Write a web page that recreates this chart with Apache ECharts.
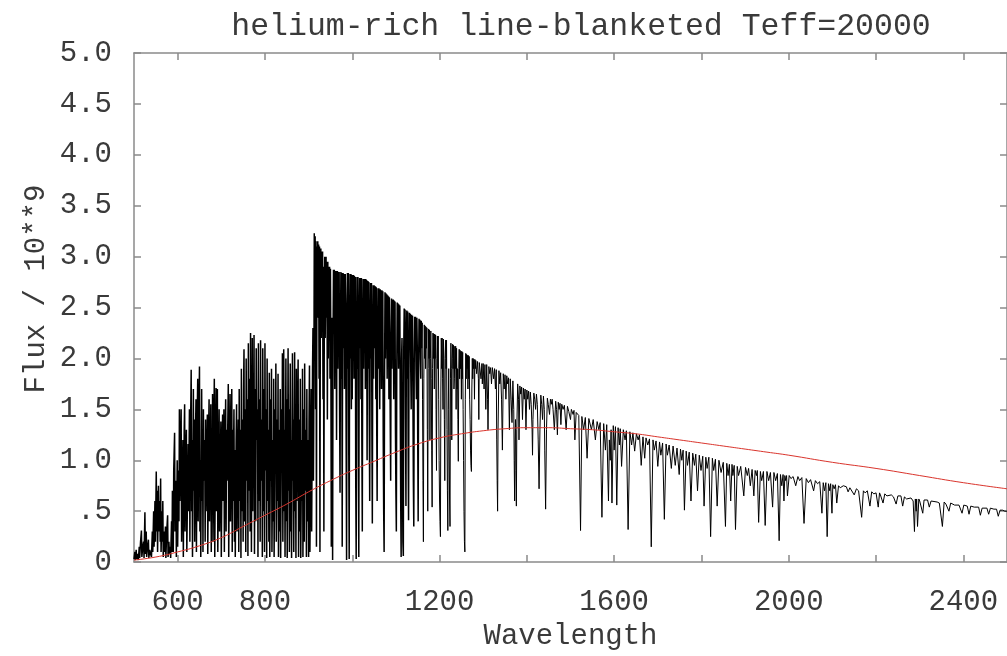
<!DOCTYPE html>
<html>
<head>
<meta charset="utf-8">
<title>helium-rich line-blanketed Teff=20000</title>
<script src="https://cdn.jsdelivr.net/npm/echarts@6/dist/echarts.min.js"></script>
<style>
  html, body { margin: 0; padding: 0; background: #fff; overflow: hidden; }
  #chart { width: 100vw; height: 100vh; }
</style>
</head>
<body>
<div id="chart"></div>
<script>
// model spectrum, [wavelength, flux / 1e9]
// short-wavelength part: the heavily blanketed forest below ~1160
const spectrumShort = [
  [500,0.03],[502,0.1],[503,0.02],[505,0.12],[506,0.03],[508,0.08],[510,0.02],[512,0.15],[513,0.04],[515,0.2],
  [517,0.31],[518,0.05],[520,0.15],[522,0.2],[523,0.04],[525,0.49],[526,0.08],[528,0.3],[529,0.05],[531,0.15],
  [533,0.22],[534,0.04],[536,0.12],[538,0.08],[540,0.05],[542,0.3],[543,0.1],[545,0.5],[546,0.15],[548,0.6],
  [549,0.2],[551,0.89],[552,0.3],[553,0.7],[554,0.1],[556,0.75],[557,0.3],[559,0.6],[560,0.2],[561,0.82],
  [562,0.1],[564,0.5],[565,0.2],[566,0.6],[567,0.05],[569,0.3],[570,0.1],[572,0.35],[573,0.04],[575,0.3],
  [577,0.46],[578,0.05],[580,0.2],[581,0.08],[583,0.15],[584,0.04],[586,0.4],[587,0.1],[588,0.7],[589,0.2],
  [590,0.1],[591,0.9],[593,1.27],[594,0.3],[596,0.8],[597,0.05],[599,1.0],[600,0.15],[602,0.9],[603,0.4],
  [604,1.5],[605,0.6],[607,1.2],[608,1.5],[609,0.2],[611,0.9],[612,1.2],[613,0.05],[615,1.3],[616,1.55],
  [617,0.3],[619,1.1],[620,1.3],[621,0.1],[623,0.8],[624,1.16],[625,0.5],[627,1.5],[628,0.2],[629,1.1],
  [631,1.89],[632,0.5],[633,1.2],[634,0.05],[636,1.7],[637,0.7],[638,1.4],[639,0.2],[641,1.3],[642,1.6],
  [643,0.1],[645,1.5],[646,1.8],[647,0.4],[648,1.2],[650,1.92],[651,0.3],[652,1.0],[653,0.05],[655,1.7],
  [656,0.6],[657,1.3],[658,0.1],[659,1.5],[660,0.8],[662,1.2],[663,0.2],[664,1.4],[665,0.5],[667,1.1],
  [668,1.45],[669,0.08],[671,1.3],[672,1.6],[673,0.4],[674,0.9],[676,1.55],[677,0.1],[678,1.2],[679,0.7],
  [680,1.65],[681,0.2],[683,1.4],[684,1.8],[685,0.05],[687,1.3],[688,1.71],[689,0.5],[690,1.2],[691,1.7],
  [692,0.1],[694,1.1],[695,1.5],[696,0.3],[698,1.0],[699,1.38],[700,0.05],[702,1.2],[703,1.45],[704,0.6],
  [706,1.5],[707,0.1],[708,0.9],[710,1.6],[711,0.3],[712,1.3],[713,0.8],[715,1.4],[716,1.75],[717,0.05],
  [719,1.2],[720,1.65],[721,0.4],[722,0.9],[724,1.7],[725,0.1],[726,1.3],[727,0.6],[729,1.5],[730,0.2],
  [731,1.1],[732,0.05],[734,1.2],[735,1.55],[736,0.3],[737,0.8],[739,1.4],[740,0.1],[741,1.7],[742,0.6],
  [744,1.3],[745,0.04],[746,1.9],[747,0.5],[749,1.4],[750,0.2],[751,1.7],[752,2.09],[753,0.4],[755,1.5],
  [756,0.1],[757,2.0],[758,0.8],[760,1.6],[761,0.06],[762,2.15],[763,0.7],[765,1.8],[766,0.3],[767,2.25],
  [768,1.0],[769,0.1],[771,2.2],[772,0.5],[773,1.6],[774,1.0],[775,2.23],[776,0.08],[778,1.7],[779,0.4],
  [780,2.1],[781,1.2],[783,1.5],[784,0.05],[785,2.15],[786,0.6],[788,1.6],[789,0.2],[790,2.18],[791,0.8],
  [793,1.4],[794,0.05],[795,2.1],[796,0.5],[798,1.7],[799,0.1],[800,2.15],[801,0.9],[803,1.5],[804,0.04],
  [805,2.0],[806,0.6],[808,1.3],[809,0.2],[810,1.86],[811,0.05],[813,1.6],[814,0.8],[815,1.9],[816,0.1],
  [818,1.2],[819,0.4],[820,1.8],[821,0.05],[823,1.5],[824,1.0],[825,1.95],[826,0.2],[828,1.4],[829,0.6],
  [830,1.85],[831,0.05],[833,1.3],[834,0.3],[835,1.7],[836,0.04],[838,1.5],[839,0.9],[840,2.05],[841,0.2],
  [843,2.09],[844,0.5],[845,1.3],[846,0.05],[848,2.0],[849,0.4],[850,1.6],[851,0.04],[853,2.1],[854,0.7],
  [855,1.5],[856,0.1],[858,1.95],[859,0.3],[860,1.2],[861,0.04],[863,2.05],[864,0.8],[865,1.4],[866,0.1],
  [868,2.06],[869,0.5],[870,1.1],[871,0.04],[872,1.9],[873,0.6],[875,1.5],[876,1.99],[877,0.05],[879,1.4],
  [880,0.3],[881,1.8],[882,0.04],[884,1.2],[885,0.6],[886,1.9],[887,0.05],[889,1.5],[890,0.2],[891,1.95],
  [892,0.7],[894,1.3],[895,0.05],[896,1.7],[897,0.4],[899,1.2],[900,0.05],[901,1.4],[902,1.93],[903,0.1],
  [905,1.2],[906,1.7],[907,0.3],[909,1.9],[910,2.3],[911,0.8],[912,1.6],
  [913,3.23],[914,2.0],[915,3.2],[916,1.5],[917,3.15],[918,0.15],[919,3.1],[920,2.6],[921,3.15],[922,2.4],
  [923,3.12],[924,1.8],[925,3.1],[926,0.1],[927,2.9],[928,3.08],[929,2.2],[930,3.05],[931,2.5],[932,3.05],
  [933,1.6],[934,2.9],[935,0.3],[936,2.5],[937,3.0],[938,2.2],[940,3.0],[941,2.4],[942,2.95],[943,1.4],
  [944,2.95],[945,2.0],[946,2.9],[947,2.6],[948,2.9],[949,1.8],[950,2.88],[951,2.1],[952,0.15],[953,1.5],
  [954,2.4],[955,0.02],[956,2.2],[957,2.87],[958,2.3],[959,2.87],[960,1.7],[961,2.86],[962,2.2],[963,2.86],
  [964,1.2],[965,2.5],[966,2.86],[967,1.9],[968,2.85],[969,2.3],[970,2.85],[971,1.5],[972,0.68],[973,2.2],
  [974,2.85],[975,1.8],[976,2.84],[977,0.15],[978,2.5],[979,2.84],[980,2.1],[981,2.83],[982,1.7],[983,2.0],
  [984,2.83],[985,2.5],[986,1.2],[987,0.02],[988,2.4],[989,2.84],[990,1.9],[991,2.84],[992,1.1],[993,0.03],
  [994,2.3],[995,2.83],[996,2.0],[997,2.83],[998,1.5],[999,2.82],[1000,1.6],[1001,2.82],[1002,2.2],[1003,2.82],
  [1004,1.8],[1005,2.81],[1006,2.3],[1007,2.8],[1008,0.8],[1009,0.03],[1010,2.2],[1011,2.8],[1012,1.9],[1013,2.8],
  [1014,1.0],[1015,0.05],[1016,2.4],[1017,2.79],[1018,2.1],[1019,2.79],[1020,1.6],[1021,2.79],[1022,1.2],[1023,0.3],
  [1024,2.3],[1025,2.78],[1026,1.9],[1027,2.78],[1028,2.3],[1029,2.78],[1030,1.7],[1031,2.78],[1032,2.2],[1033,2.77],
  [1034,1.0],[1035,2.5],[1036,2.76],[1037,1.9],[1038,2.75],[1039,1.4],[1040,0.6],[1041,2.3],[1042,2.74],[1043,2.0],
  [1044,2.74],[1045,1.3],[1046,0.38],[1047,2.2],[1048,2.72],[1049,1.8],[1050,2.72],[1051,2.3],[1052,2.1],[1053,2.71],
  [1054,1.6],[1055,2.7],[1056,1.4],[1057,0.6],[1058,2.2],[1059,2.69],[1060,1.9],[1061,2.69],[1062,2.3],[1063,1.5],
  [1064,2.68],[1065,2.1],[1066,2.67],[1067,1.7],[1068,2.67],[1069,2.2],[1070,2.66],[1071,1.2],[1072,0.5],[1073,0.1],
  [1074,1.8],[1075,2.65],[1076,2.0],[1077,2.64],[1078,2.3],[1079,2.63],[1080,1.8],[1081,2.62],[1082,2.2],[1083,2.61],
  [1084,1.6],[1085,2.6],[1086,2.1],[1087,1.4],[1088,0.8],[1089,2.2],[1090,2.59],[1091,1.9],[1092,2.58],[1093,2.3],
  [1094,2.58],[1095,1.6],[1096,2.57],[1097,2.0],[1098,2.56],[1099,1.3],[1100,0.7],[1101,0.3],[1102,1.9],[1103,2.55],
  [1104,2.2],[1105,2.54],[1106,1.9],[1107,2.53],[1108,2.3],[1109,2.52],[1110,1.5],[1111,0.6],[1112,0.05],[1113,2.0],
  [1114,2.2],[1115,1.0],[1116,0.2],[1117,0.06],[1118,2.1],[1119,2.49],[1120,2.0],[1121,2.48],[1122,1.4],[1123,0.55],
  [1124,2.2],[1125,2.47],[1126,1.8],[1127,2.46],[1128,1.2],[1129,0.41],[1130,2.0],[1131,2.45],[1132,2.1],[1133,2.44],
  [1134,1.9],[1135,1.5],[1136,2.43],[1137,2.0],[1138,2.42],[1139,1.6],[1140,0.8],[1141,0.35],[1142,2.0],[1143,2.41],
  [1144,2.1],[1145,2.41],[1146,1.9],[1147,1.6],[1148,2.4],[1149,2.1],[1150,1.2],[1151,0.4],[1152,1.9],[1153,2.39],
  [1154,2.2],[1155,2.38],[1156,2.0],[1157,1.8],[1158,2.37],[1159,2.1],[1160,2.35]
];

// long-wavelength part: thinning lines on a falling continuum
const spectrumLong = [
  [1160,2.35],[1161,1.6],[1162,0.8],[1163,0.2],[1164,1.8],[1165,2.33],[1166,2.0],[1167,2.32],[1168,1.9],[1169,2.31],
  [1170,2.1],[1171,2.3],[1172,1.3],[1173,0.5],[1174,1.9],[1175,2.29],[1176,2.0],[1177,2.28],[1178,1.2],[1179,2.0],
  [1180,2.27],[1181,1.8],[1182,1.1],[1183,0.54],[1184,1.9],[1185,2.25],[1186,2.0],[1187,2.24],[1188,1.7],[1189,2.24],
  [1190,2.0],[1191,2.23],[1192,1.5],[1193,0.9],[1194,2.0],[1195,2.22],[1196,1.9],[1197,2.22],[1198,1.6],[1199,1.0],
  [1200,0.6],[1201,0.4],[1202,0.25],[1203,1.7],[1204,2.2],[1205,1.9],[1206,2.2],[1207,1.8],[1208,1.5],[1209,2.19],
  [1210,2.0],[1211,1.4],[1212,0.8],[1213,2.0],[1214,2.18],[1215,1.9],[1216,2.18],[1217,1.3],[1218,0.7],[1219,0.31],
  [1220,1.5],[1221,1.9],[1222,1.2],[1223,0.6],[1224,0.35],[1225,1.8],[1226,2.15],[1227,1.9],[1228,1.2],[1229,2.0],
  [1230,2.14],[1231,1.9],[1232,2.13],[1233,1.7],[1234,1.8],[1235,2.12],[1236,1.9],[1237,2.12],[1238,1.5],[1239,2.1],
  [1240,1.7],[1241,1.9],[1242,1.4],[1243,0.99],[1244,1.9],[1245,2.09],[1246,1.8],[1247,2.08],[1248,1.9],[1249,2.07],
  [1250,1.6],[1251,2.07],[1252,1.8],[1253,2.06],[1254,1.5],[1255,1.0],[1256,0.5],[1257,0.2],[1258,0.1],[1259,1.6],
  [1260,2.05],[1261,1.8],[1262,2.04],[1263,1.9],[1264,2.03],[1265,1.7],[1266,2.03],[1267,1.8],[1268,2.02],[1269,1.6],
  [1270,1.4],[1271,1.1],[1272,0.95],[1273,0.89],[1274,1.7],[1275,2.0],[1276,1.8],[1277,2.0],[1278,1.9],[1279,1.99],
  [1280,1.6],[1281,1.99],[1282,1.9],[1283,1.98],[1285,1.85],[1287,1.97],[1289,1.8],[1290,1.4],[1291,1.96],[1293,1.96],
  [1295,1.8],[1297,1.95],[1298,1.75],[1300,1.95],[1302,1.7],[1304,1.94],[1306,1.5],[1308,1.94],[1310,1.6],[1311,1.3],
  [1313,1.92],[1315,1.85],[1317,1.91],[1319,1.75],[1321,1.91],[1324,1.8],[1326,1.9],[1328,1.7],[1330,1.89],[1331,1.2],
  [1332,0.8],[1333,0.5],[1334,1.3],[1336,1.88],[1338,1.75],[1340,1.86],[1342,1.6],[1344,1.1],[1346,1.85],[1348,1.7],
  [1350,1.84],[1352,1.6],[1354,1.83],[1356,1.75],[1358,1.81],[1360,1.3],[1362,1.8],[1364,1.6],[1366,1.37],[1368,1.78],
  [1370,1.5],[1371,1.0],[1372,0.6],[1373,1.2],[1374,1.4],[1375,0.9],[1376,0.55],[1377,1.3],[1379,1.75],[1381,1.6],
  [1382,1.2],[1384,1.73],[1386,1.65],[1388,1.72],[1390,1.4],[1392,1.71],[1394,1.6],[1396,1.7],[1398,1.3],[1400,1.69],
  [1402,1.6],[1404,1.68],[1406,1.5],[1408,1.67],[1410,1.55],[1412,1.3],[1413,1.05],[1414,1.4],[1416,1.66],[1418,1.6],
  [1420,1.5],[1422,1.65],[1424,1.55],[1426,1.2],[1428,0.72],[1430,1.3],[1432,1.64],[1434,1.55],[1436,1.4],[1438,1.63],
  [1440,1.5],[1441,1.1],[1443,0.52],[1445,1.3],[1447,1.61],[1449,1.55],[1452,1.45],[1454,1.6],[1456,1.55],[1458,1.6],
  [1460,1.5],[1463,1.3],[1466,1.58],[1468,1.5],[1470,1.25],[1472,1.57],[1474,1.5],[1476,1.56],[1478,1.35],[1480,1.55],
  [1483,1.5],[1486,1.54],[1490,1.3],[1493,1.53],[1496,1.48],[1500,1.4],[1502,1.5],[1506,1.45],[1508,1.49],[1510,1.2],
  [1513,1.47],[1516,1.46],
  [1519,1.44],[1523,0.31],[1526,1.43],[1530,1.3],[1534,1.42],[1538,1.02],[1542,1.41],
  [1548,1.3],[1552,1.4],[1557,1.2],[1561,1.38],[1565,1.3],[1568,1.37],[1572,0.44],[1576,1.36],[1580,1.1],[1583,1.35],
  [1587,0.6],[1589,1.2],[1591,1.0],[1593,1.3],[1595,0.58],[1598,1.34],[1600,1.1],[1603,1.33],[1606,0.56],[1609,1.32],
  [1612,1.15],[1614,1.31],[1617,0.94],[1621,1.3],[1625,1.2],[1628,1.29],[1632,0.32],[1636,1.28],[1640,1.15],[1643,1.27],
  [1647,1.09],[1651,1.26],[1655,1.2],[1658,1.25],[1662,0.95],[1666,1.23],[1670,1.02],[1673,1.22],[1677,1.15],[1681,1.21],
  [1685,0.15],[1689,1.2],[1692,1.1],[1696,1.19],[1700,0.94],[1704,1.18],[1707,1.05],[1711,1.17],[1715,0.42],[1719,1.16],
  [1722,1.05],[1726,1.15],[1731,0.92],[1735,1.14],[1740,0.95],[1744,1.12],[1749,0.86],[1752,1.11],[1755,1.0],[1758,1.1],
  [1761,0.51],[1765,1.09],[1768,0.95],[1772,1.08],[1776,0.6],[1780,1.07],[1784,0.95],[1787,1.06],[1791,0.7],[1795,1.05],
  [1799,0.9],[1803,1.04],[1806,0.55],[1810,1.03],[1813,0.92],[1817,1.03],[1821,0.25],[1825,1.02],[1828,0.9],[1832,1.01],
  [1836,0.55],[1840,1.0],[1845,0.88],[1850,0.98],[1855,0.35],[1858,0.97],[1861,0.85],[1864,0.96],[1867,0.6],[1870,0.96],
  [1872,0.85],[1875,0.95],[1878,0.32],[1882,0.94],[1885,0.85],[1890,0.94],[1897,0.65],[1901,0.93],[1905,0.85],[1908,0.92],
  [1912,0.75],[1916,0.91],[1920,0.65],[1923,0.9],[1926,0.85],[1928,0.9],[1931,0.39],[1935,0.89],[1938,0.8],[1942,0.89],
  [1946,0.36],[1950,0.89],[1954,0.8],[1958,0.88],[1963,0.54],[1966,0.88],[1970,0.8],[1974,0.87],[1978,0.21],[1981,0.86],
  [1984,0.75],[1987,0.86],[1989,0.6],[1991,0.85],[1993,0.8],[1995,0.85],[1997,0.65],[2001,0.85],[2005,0.82],[2010,0.84],
  [2016,0.75],[2021,0.84],[2025,0.8],[2030,0.83],[2035,0.38],[2040,0.82],[2045,0.78],[2050,0.81],[2057,0.7],[2061,0.8],
  [2066,0.77],[2071,0.79],[2076,0.48],[2079,0.78],[2082,0.7],[2085,0.78],[2088,0.25],[2091,0.77],[2094,0.7],[2096,0.77],
  [2099,0.48],[2101,0.76],[2104,0.72],[2107,0.76],[2110,0.58],[2114,0.75],[2118,0.73],[2125,0.75],[2132,0.74],[2136,0.69],
  [2140,0.73],[2150,0.66],[2155,0.72],[2160,0.7],[2164,0.71],[2167,0.44],[2171,0.7],[2175,0.68],[2180,0.7],[2186,0.55],
  [2190,0.69],[2195,0.67],[2200,0.68],[2205,0.54],[2208,0.68],[2210,0.66],[2213,0.67],[2216,0.58],[2220,0.67],[2225,0.65],
  [2235,0.66],[2240,0.64],[2246,0.57],[2250,0.65],[2253,0.64],[2257,0.65],[2261,0.55],[2265,0.64],[2270,0.62],[2280,0.63],
  [2285,0.6],[2288,0.3],[2290,0.62],[2292,0.5],[2293,0.62],[2295,0.35],[2298,0.62],[2300,0.6],[2304,0.61],[2307,0.48],
  [2310,0.61],[2314,0.6],[2318,0.61],[2322,0.54],[2326,0.6],[2330,0.59],[2340,0.59],[2345,0.58],[2348,0.59],[2352,0.35],
  [2356,0.59],[2360,0.57],[2363,0.58],[2367,0.5],[2371,0.58],[2380,0.56],[2390,0.56],[2397,0.48],[2401,0.56],[2405,0.55],
  [2409,0.55],[2413,0.47],[2417,0.55],[2425,0.54],[2435,0.54],[2439,0.46],[2443,0.53],[2447,0.53],[2454,0.53],[2458,0.47],
  [2462,0.53],[2470,0.52],[2476,0.52],[2480,0.45],[2484,0.51],[2490,0.51],[2495,0.5],[2500,0.5]
];

// smooth red reference curve
const blackbody = [
  [500,0.02],[550,0.05],[600,0.1],[650,0.16],[700,0.24],[750,0.35],[800,0.46],[850,0.57],[900,0.69],[950,0.8],
  [1000,0.9],[1050,0.99],[1100,1.08],[1150,1.16],[1200,1.22],[1250,1.26],[1300,1.29],[1350,1.31],[1400,1.32],
  [1450,1.32],[1500,1.31],[1550,1.3],[1600,1.28],[1650,1.26],[1700,1.23],[1750,1.2],[1800,1.17],[1850,1.14],
  [1900,1.11],[1950,1.08],[2000,1.05],[2100,0.98],[2200,0.92],[2300,0.85],[2400,0.78],[2500,0.72]
];

const xTickValues = [600, 800, 1000, 1200, 1400, 1600, 1800, 2000, 2200, 2400];
const xLabelValues = [600, 800, 1200, 1600, 2000, 2400];

const FONT = "Liberation Mono";
const TEXT = "#3a3a3a";
const FRAME = "#8a8a8a";

const chart = echarts.init(document.getElementById("chart"));

const frameLine = { show: true, onZero: false, lineStyle: { color: FRAME, width: 1.5 } };
const innerTick = { show: true, inside: true, length: 7, lineStyle: { color: FRAME, width: 1.5 } };

const option = {
  backgroundColor: "#fff",
  animation: false,
  title: {
    text: "helium-rich line-blanketed Teff=20000",
    left: 576,
    top: 6,
    textAlign: "center",
    textStyle: { fontFamily: FONT, fontSize: 31.5, fontWeight: "normal", color: TEXT }
  },
  // y label placed by hand: it sits a little above the axis middle
  graphic: [
    {
      type: "text",
      x: 36,
      y: 289,
      rotation: Math.PI / 2,
      style: {
        text: "Flux / 10**9",
        fontFamily: FONT,
        fontSize: 29,
        fill: TEXT,
        align: "center",
        verticalAlign: "middle"
      }
    }
  ],
  grid: { left: 134, top: 53, width: 876, height: 515 },
  xAxis: [
    {
      type: "value",
      min: 500,
      max: 2500,
      position: "bottom",
      axisLine: frameLine,
      axisTick: Object.assign({}, innerTick, { customValues: xTickValues }),
      axisLabel: {
        customValues: xLabelValues,
        margin: 26,
        fontFamily: FONT,
        fontSize: 29,
        color: TEXT,
        formatter: (v) => String(v)
      },
      splitLine: { show: false },
      name: "Wavelength",
      nameLocation: "middle",
      nameGap: 52,
      nameTextStyle: { fontFamily: FONT, fontSize: 29, color: TEXT }
    },
    {
      type: "value",
      min: 500,
      max: 2500,
      position: "top",
      axisLine: frameLine,
      axisTick: Object.assign({}, innerTick, { customValues: xTickValues }),
      axisLabel: { show: false },
      splitLine: { show: false }
    }
  ],
  yAxis: [
    {
      type: "value",
      min: 0,
      max: 5,
      interval: 0.5,
      position: "left",
      axisLine: frameLine,
      axisTick: innerTick,
      axisLabel: {
        margin: 22,
        fontFamily: FONT,
        fontSize: 29,
        color: TEXT,
        formatter: (v) => (v === 0 ? "0" : v < 1 ? ".5" : v.toFixed(1))
      },
      splitLine: { show: false }
    },
    {
      type: "value",
      min: 0,
      max: 5,
      interval: 0.5,
      position: "right",
      axisLine: frameLine,
      axisTick: innerTick,
      axisLabel: { show: false },
      splitLine: { show: false }
    }
  ],
  series: [
    {
      name: "model short",
      type: "line",
      data: spectrumShort,
      showSymbol: false,
      symbol: "none",
      lineStyle: { color: "#000", width: 1.5 },
      z: 2
    },
    {
      name: "model long",
      type: "line",
      data: spectrumLong,
      showSymbol: false,
      symbol: "none",
      lineStyle: { color: "#000", width: 1 },
      z: 2
    },
    {
      name: "blackbody",
      type: "line",
      data: blackbody,
      smooth: true,
      showSymbol: false,
      symbol: "none",
      lineStyle: { color: "#d9342c", width: 1 },
      z: 3
    }
  ]
};

chart.setOption(option);
window.addEventListener("resize", () => chart.resize());
</script>
</body>
</html>
